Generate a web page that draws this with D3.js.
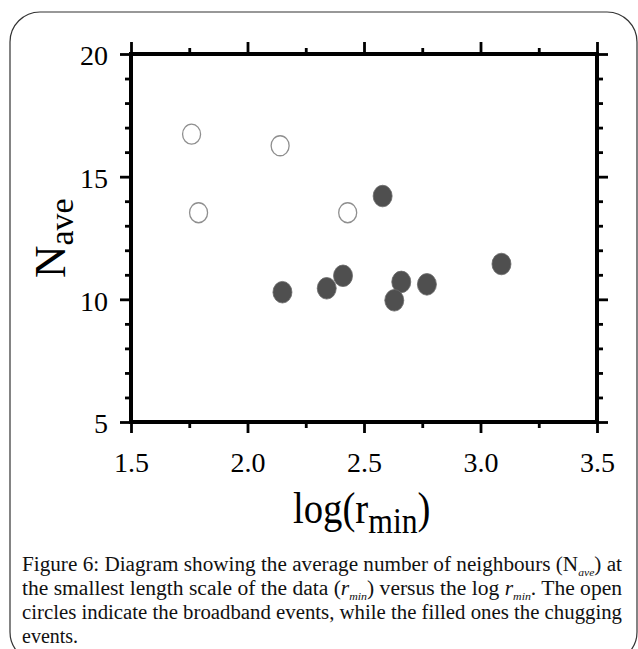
<!DOCTYPE html>
<html>
<head>
<meta charset="utf-8">
<script src="https://cdn.jsdelivr.net/npm/d3@7"></script>
<style>
  body { margin: 0; background: #fff; }
  svg { display: block; }
</style>
</head>
<body>
<div id="chart"></div>
<script>
// data
const broadbandX = [1.76, 2.14, 1.79, 2.43];
const broadbandY = [16.73, 16.26, 13.53, 13.53];
const chuggingX = [2.58, 2.15, 2.34, 2.41, 2.66, 2.63, 2.77, 3.09];
const chuggingY = [14.21, 10.29, 10.45, 10.96, 10.71, 9.96, 10.61, 11.44];

const xMajor = [1.5, 2.0, 2.5, 3.0, 3.5];
const xMinor = [1.75, 2.25, 2.75, 3.25];
const yMajor = [5, 10, 15, 20];
const yMinor = [6, 7, 8, 9, 11, 12, 13, 14, 16, 17, 18, 19];

const width = 638;
const height = 649;
const serif = "'Liberation Serif', 'Times New Roman', serif";

// plot box
const box = { left: 131, right: 597, top: 54, bottom: 422 };

const svg = d3
  .select("#chart")
  .append("svg")
  .attr("width", width)
  .attr("height", height);

// rounded frame around figure + caption
svg
  .append("rect")
  .attr("x", 10)
  .attr("y", 12)
  .attr("width", 627)
  .attr("height", 650)
  .attr("rx", 30)
  .attr("fill", "none")
  .attr("stroke", "#333")
  .attr("stroke-width", 1.2);

const scaleX = d3.scaleLinear().domain([1.5, 3.5]).range([box.left, box.right]);
const scaleY = d3.scaleLinear().domain([5, 20]).range([box.bottom, box.top]);

function styleTicks(g, fmt) {
  g.select(".domain").remove();
  g.selectAll(".tick line").attr("stroke", "#000").attr("stroke-width", 2.8);
  if (!fmt) g.selectAll(".tick text").remove();
}

// bottom axis
const gx = svg.append("g").attr("transform", `translate(0, ${box.bottom})`);
gx.call(d3.axisBottom(scaleX).tickValues(xMajor).tickSize(11).tickFormat(d3.format(".1f")))
  .call((g) => styleTicks(g, true));
gx.selectAll(".tick text")
  .attr("y", 50)
  .attr("dy", 0)
  .attr("font-family", serif)
  .attr("font-size", 28)
  .attr("fill", "#000");
svg.append("g").attr("transform", `translate(0, ${box.bottom})`)
  .call(d3.axisBottom(scaleX).tickValues(xMinor).tickSize(6).tickFormat(""))
  .call((g) => styleTicks(g, false));

// top axis
svg.append("g").attr("transform", `translate(0, ${box.top})`)
  .call(d3.axisTop(scaleX).tickValues(xMajor).tickSize(12).tickFormat(""))
  .call((g) => styleTicks(g, false));
svg.append("g").attr("transform", `translate(0, ${box.top})`)
  .call(d3.axisTop(scaleX).tickValues(xMinor).tickSize(6).tickFormat(""))
  .call((g) => styleTicks(g, false));

// left axis
const gy = svg.append("g").attr("transform", `translate(${box.left}, 0)`);
gy.call(d3.axisLeft(scaleY).tickValues(yMajor).tickSize(11).tickPadding(12))
  .call((g) => styleTicks(g, true));
gy.selectAll(".tick text")
  .attr("dy", "0.39em")
  .attr("font-family", serif)
  .attr("font-size", 28)
  .attr("fill", "#000");
svg.append("g").attr("transform", `translate(${box.left}, 0)`)
  .call(d3.axisLeft(scaleY).tickValues(yMinor).tickSize(6).tickFormat(""))
  .call((g) => styleTicks(g, false));

// right axis
svg.append("g").attr("transform", `translate(${box.right}, 0)`)
  .call(d3.axisRight(scaleY).tickValues(yMajor).tickSize(11).tickFormat(""))
  .call((g) => styleTicks(g, false));
svg.append("g").attr("transform", `translate(${box.right}, 0)`)
  .call(d3.axisRight(scaleY).tickValues(yMinor).tickSize(6).tickFormat(""))
  .call((g) => styleTicks(g, false));

// frame of the plot
svg
  .append("rect")
  .attr("x", box.left)
  .attr("y", box.top)
  .attr("width", box.right - box.left)
  .attr("height", box.bottom - box.top)
  .attr("fill", "none")
  .attr("stroke", "#000")
  .attr("stroke-width", 4);

// points
const marks = svg.append("g");
marks
  .selectAll("ellipse.open")
  .data(d3.range(broadbandX.length))
  .join("ellipse")
  .attr("class", "open")
  .attr("cx", (i) => scaleX(broadbandX[i]))
  .attr("cy", (i) => scaleY(broadbandY[i]))
  .attr("rx", 9)
  .attr("ry", 10)
  .attr("fill", "#fff")
  .attr("stroke", "#8f8f8f")
  .attr("stroke-width", 1.3);
marks
  .selectAll("ellipse.filled")
  .data(d3.range(chuggingX.length))
  .join("ellipse")
  .attr("class", "filled")
  .attr("cx", (i) => scaleX(chuggingX[i]))
  .attr("cy", (i) => scaleY(chuggingY[i]))
  .attr("rx", 9.5)
  .attr("ry", 10.8)
  .attr("fill", "#4f4f4f")
  .attr("stroke", "#6a6a6a")
  .attr("stroke-width", 0.8);

// x title
const xt = svg
  .append("text")
  .attr("transform", "translate(293, 523) scale(0.88, 1)")
  .attr("font-family", serif)
  .attr("font-size", 44)
  .attr("fill", "#000");
xt.append("tspan").text("log(r");
xt.append("tspan").attr("font-size", 36).attr("dy", 10).text("min");
xt.append("tspan").attr("dy", -10).text(")");

// y title
const yt = svg
  .append("text")
  .attr("transform", "translate(65, 278) rotate(-90)")
  .attr("font-family", serif)
  .attr("font-size", 45)
  .attr("fill", "#000");
yt.append("tspan").text("N");
yt.append("tspan").attr("font-size", 34).attr("dy", 8).text("ave");

// caption
const cap = svg
  .append("g")
  .attr("font-family", serif)
  .attr("font-size", 20)
  .attr("fill", "#111");

const l1 = cap.append("text").attr("x", 22).attr("y", 571)
  .attr("textLength", 600).attr("lengthAdjust", "spacingAndGlyphs");
l1.append("tspan").text("Figure 6: Diagram showing the average number of neighbours (N");
l1.append("tspan").attr("font-size", 11).attr("font-style", "italic").attr("dy", 5).text("ave");
l1.append("tspan").attr("dy", -5).text(") at");

const l2 = cap.append("text").attr("x", 22).attr("y", 595)
  .attr("textLength", 600).attr("lengthAdjust", "spacingAndGlyphs");
l2.append("tspan").text("the smallest length scale of the data (");
l2.append("tspan").attr("font-style", "italic").text("r");
l2.append("tspan").attr("font-size", 11).attr("font-style", "italic").attr("dy", 5).text("min");
l2.append("tspan").attr("dy", -5).text(") versus the log ");
l2.append("tspan").attr("font-style", "italic").text("r");
l2.append("tspan").attr("font-size", 11).attr("font-style", "italic").attr("dy", 5).text("min");
l2.append("tspan").attr("dy", -5).text(". The open");

cap.append("text").attr("x", 22).attr("y", 619)
  .attr("textLength", 600).attr("lengthAdjust", "spacingAndGlyphs")
  .text("circles indicate the broadband events, while the filled ones the chugging");

cap.append("text").attr("x", 22).attr("y", 643).text("events.");
</script>
</body>
</html>
